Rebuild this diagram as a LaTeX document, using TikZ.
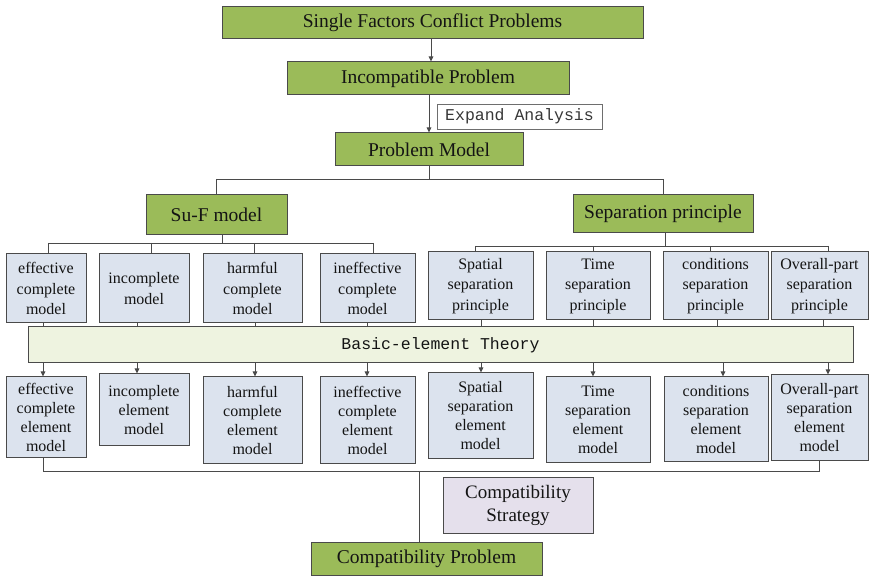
\documentclass[tikz,border=0pt]{standalone}
\usepackage{fontspec}
\setmainfont{Liberation Serif}
\setmonofont{Liberation Mono}
\usetikzlibrary{arrows.meta}
\definecolor{leaf}{HTML}{9BBB59}
\definecolor{slate}{HTML}{DCE3EE}
\definecolor{cream}{HTML}{EEF3E0}
\definecolor{lilac}{HTML}{E5E0EC}
\definecolor{edge}{HTML}{4A4A4A}
\definecolor{ink}{HTML}{141414}
\tikzset{
  box/.style={draw=edge, line width=1pt, inner sep=0pt, align=center, text=ink},
  gbox/.style={box, fill=leaf, font=\fontsize{19.5}{22}\selectfont},
  bbox/.style={box, fill=slate, font=\fontsize{16}{20.5}\selectfont},
  ebox/.style={box, fill=slate, font=\fontsize{16}{19}\selectfont},
  band/.style={box, fill=cream, font=\ttfamily\fontsize{16.5}{20}\selectfont},
  lbox/.style={box, fill=lilac, font=\fontsize{19}{23}\selectfont},
  tag/.style={draw=edge!80, line width=0.8pt, fill=white, inner sep=0pt, text=ink!85,
    font=\ttfamily\fontsize{16.5}{20}\selectfont},
  link/.style={draw=edge, line width=0.9pt},
  arr/.style={link, -{Triangle[length=5pt,width=4.5pt]}},
}
\begin{document}
\begin{tikzpicture}[x=1pt, y=-1pt]
  \useasboundingbox (0,0) rectangle (871,577);

  % top chain
  \node[gbox, minimum width=421pt, minimum height=32pt] (top) at (432.5,23) {Single Factors Conflict Problems};
  \node[gbox, minimum width=282pt, minimum height=33pt] (inc) at (428,78.5) {Incompatible Problem};
  \node[tag, minimum width=165pt, minimum height=25pt] (exp) at (519.5,116.5) {Expand Analysis};
  \node[gbox, minimum width=188pt, minimum height=33pt] (pm) at (429,149.5) {Problem Model};

  % two families
  \node[gbox, minimum width=141pt, minimum height=40pt] (suf) at (216.5,215) {Su-F model};
  \node[gbox, minimum width=180pt, minimum height=38pt] (sep) at (663,214) {Separation principle};

  % first row of models
  \node[bbox, minimum width=80pt, minimum height=69pt] (a1) at (46,288.5) {effective\\complete\\model};
  \node[bbox, minimum width=90pt, minimum height=69pt] (a2) at (144,288.5) {incomplete\\model};
  \node[bbox, minimum width=99pt, minimum height=69pt] (a3) at (252.5,288.5) {harmful\\complete\\model};
  \node[bbox, minimum width=95pt, minimum height=69pt] (a4) at (367.5,288.5) {ineffective\\complete\\model};
  \node[bbox, minimum width=105pt, minimum height=68pt] (b1) at (480.5,286) {Spatial\\separation\\principle};
  \node[bbox, minimum width=104pt, minimum height=68pt] (b2) at (598,286) {Time\\separation\\principle};
  \node[bbox, minimum width=105pt, minimum height=68pt] (b3) at (715.5,286) {conditions\\separation\\principle};
  \node[bbox, minimum width=97pt, minimum height=68pt] (b4) at (819.5,286) {Overall-part\\separation\\principle};

  % theory band
  \node[band, minimum width=825pt, minimum height=36pt] (bet) at (440.5,345) {Basic-element Theory};

  % second row of element models
  \node[ebox, minimum width=80pt, minimum height=81pt] (c1) at (46,417.5) {effective\\complete\\element\\model};
  \node[ebox, minimum width=90pt, minimum height=72pt] (c2) at (144,410) {incomplete\\element\\model};
  \node[ebox, minimum width=99pt, minimum height=87pt] (c3) at (252.5,420.5) {harmful\\complete\\element\\model};
  \node[ebox, minimum width=95pt, minimum height=87pt] (c4) at (367.5,420.5) {ineffective\\complete\\element\\model};
  \node[ebox, minimum width=105pt, minimum height=86pt] (d1) at (480.5,416) {Spatial\\separation\\element\\model};
  \node[ebox, minimum width=104pt, minimum height=86pt] (d2) at (598,420) {Time\\separation\\element\\model};
  \node[ebox, minimum width=104pt, minimum height=85pt] (d3) at (716,419.5) {conditions\\separation\\element\\model};
  \node[ebox, minimum width=97pt, minimum height=86pt] (d4) at (819.5,418) {Overall-part\\separation\\element\\model};

  % outcome
  \node[lbox, minimum width=150pt, minimum height=55pt] (cs) at (518,505.5) {Compatibility\\Strategy};
  \node[gbox, minimum width=231pt, minimum height=33pt] (cp) at (426.5,558.5) {Compatibility Problem};

  % column guides
  \coordinate (k431) at (431,0);
  \coordinate (k429) at (429,0);
  \coordinate (k419) at (419,0);
  \coordinate (r179) at (0,179);
  \coordinate (r471) at (0,471);

  % main chain
  \draw[arr] (top.south -| k431) -- (inc.north -| k431);
  \draw[arr] (inc.south -| k429) -- (pm.north -| k429);
  \draw[link] (pm.south -| k429) -- (k429 |- r179);
  \draw[link] (suf.north |- r179) -- (sep.north |- r179);
  \draw[link] (suf.north |- r179) -- (suf.north);
  \draw[link] (sep.north |- r179) -- (sep.north);

  % Su-F branch
  \coordinate (s1) at (48,243);
  \coordinate (s2) at (151,243);
  \coordinate (s3) at (254,243);
  \coordinate (s4) at (373,243);
  \draw[link] (suf.south -| 222,0) -- (222,243);
  \draw[link] (s1) -- (s4);
  \draw[link] (s1) -- (a1.north -| s1);
  \draw[link] (s2) -- (a2.north -| s2);
  \draw[link] (s3) -- (a3.north -| s3);
  \draw[link] (s4) -- (a4.north -| s4);

  % separation branch
  \coordinate (p1) at (475,246);
  \coordinate (p2) at (593,246);
  \coordinate (p3) at (710,246);
  \coordinate (p4) at (828,246);
  \draw[link] (sep.south -| 665,0) -- (665,246);
  \draw[link] (p1) -- (p4);
  \draw[link] (p1) -- (b1.north -| p1);
  \draw[link] (p2) -- (b2.north -| p2);
  \draw[link] (p3) -- (b3.north -| p3);
  \draw[link] (p4) -- (b4.north -| p4);

  % into the band
  \foreach \n/\x in {a1/43, a2/137, a3/255, a4/367, b1/481, b2/593, b3/717, b4/823}
    \draw[link] (\n.south -| \x,0) -- (bet.north -| \x,0);

  % out of the band
  \foreach \n/\x in {c1/43, c2/137, c3/255, c4/367, d1/481, d2/593, d3/723, d4/828}
    \draw[arr] (bet.south -| \x,0) -- (\n.north -| \x,0);

  % gathering line
  \draw[link] (c1.south -| 43,0) -- (43,471) -- (819,471) -- (d4.south -| 819,0);
  \draw[link] (k419 |- r471) -- (cp.north -| k419);
\end{tikzpicture}
\end{document}
